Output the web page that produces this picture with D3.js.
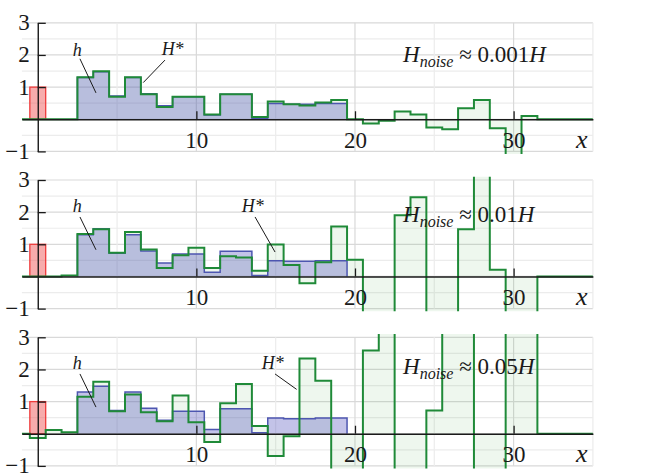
<!DOCTYPE html>
<html>
<head>
<meta charset="utf-8">
<script src="https://cdn.jsdelivr.net/npm/d3@7"></script>
<style>
  body { margin: 0; background: #fff; }
  svg { display: block; }
</style>
</head>
<body>
<div id="chart"></div>
<script>
// bin centres 0..34, each bin is 1 wide
const binCenters = d3.range(0, 35);
// exact solution h (blue), nonzero on bins 3..19
const hValues = [0, 0, 0, 1.30, 1.48, 0.72, 1.30, 0.79, 0.42, 0.70, 0.70, 0.13, 0.78, 0.78, 0.03,
  0.49, 0.47, 0.47, 0.49, 0.49, 0, 0, 0, 0, 0, 0, 0, 0, 0, 0, 0, 0, 0, 0, 0];
// reconstructions H* for the three noise levels
const hStar001 = [0, 0, 0, 1.31, 1.49, 0.70, 1.31, 0.78, 0.38, 0.70, 0.70, 0.15, 0.78, 0.78, 0.07,
  0.55, 0.47, 0.43, 0.52, 0.60, 0.0, -0.13, -0.05, 0.24, 0.15, -0.26, -0.31, 0.34, 0.60, -0.28,
  -1.6, 0.10, 0, 0, 0];
const hStar01 = [0, 0, 0.03, 1.32, 1.47, 0.74, 1.38, 0.84, 0.26, 0.66, 0.89, 0.26, 0.63, 0.59, 0.18,
  0.99, 0.36, -0.21, 0.44, 1.55, 0.52, -1.8, -1.8, 1.90, 2.46, -1.8, -1.8, 1.47, 3.6, 0.21,
  -1.8, -1.8, 0, 0, 0];
const hStar05 = [-0.13, 0.12, 0.05, 1.15, 1.62, 0.70, 1.22, 0.67, 0.39, 1.19, 0.36, -0.26, 0.95, 1.55, 0.24,
  -0.69, -0.08, 2.34, 1.65, -1.8, -1.8, 2.59, 3.6, -1.8, -1.8, 0.72, 3.6, 3.6, -1.8, -1.8,
  3.6, 3.6, 0, 0, 0];
// source pulse (red) at x = 0
const sourceBar = { x0: -0.5, x1: 0.5, value: 1 };
const noiseLabels = ['0.001', '0.01', '0.05'];
const yTicks = [-1, 1, 2, 3];
const xTicks = [10, 20, 30];

const W = 657, H = 473;
const serif = '"Liberation Serif", "Times New Roman", serif';

const panels = [
  { top: 22.8, star: hStar001, noise: noiseLabels[0], noteY: 1.79,
    hLab: [2.2, 1.97], hLine: [[2.66, 1.88], [3.67, 0.82]],
    sLab: [7.81, 2.0], sLine: [[8.02, 1.84], [6.65, 1.14]] },
  { top: 180, star: hStar01, noise: noiseLabels[1], noteY: 1.68,
    hLab: [2.2, 2.0], hLine: [[2.66, 1.85], [3.67, 0.83]],
    sLab: [12.86, 2.0], sLine: [[13.7, 1.85], [14.96, 0.76]] },
  { top: 337.3, star: hStar05, noise: noiseLabels[2], noteY: 1.86,
    hLab: [2.2, 2.02], hLine: [[2.66, 1.86], [3.67, 0.83]],
    sLab: [14.12, 2.02], sLine: [[14.96, 1.86], [16.32, 1.38]] }
];
const panelH = 128.6;

const x = d3.scaleLinear().domain([-1, 35]).range([21.9, 592.9]);

const svg = d3.select('#chart').append('svg')
  .attr('width', W).attr('height', H);

// step points: value of bin k starts at k-0.5 (curveStepAfter)
function stepPoints(vals) {
  const pts = [{ x: -1, v: 0 }];
  binCenters.forEach((c, i) => pts.push({ x: c - 0.5, v: vals[i] }));
  pts.push({ x: 35, v: vals[vals.length - 1] });
  return pts;
}
function hPoints(vals) {
  const idx = binCenters.filter((c, i) => vals[i] !== 0);
  const first = d3.min(idx), last = d3.max(idx);
  const pts = [{ x: first - 0.5, v: 0 }];
  binCenters.forEach((c, i) => {
    if (c >= first && c <= last) pts.push({ x: c - 0.5, v: vals[i] });
  });
  pts.push({ x: last + 0.5, v: 0 });
  return pts;
}

panels.forEach((p, pi) => {
  const y = d3.scaleLinear().domain([-1, 3]).range([p.top + panelH, p.top]);
  const g = svg.append('g');

  const clipId = 'clip' + pi;
  g.append('clipPath').attr('id', clipId).append('rect')
    .attr('x', x(-1)).attr('y', y(3.1))
    .attr('width', x(35) - x(-1)).attr('height', y(-1.08) - y(3.1));

  // grid
  const grid = g.append('g');
  grid.selectAll('.hg').data(d3.range(-1, 3.01, 0.5)).enter().append('line')
    .attr('x1', x(-1)).attr('x2', x(35))
    .attr('y1', d => y(d)).attr('y2', d => y(d))
    .attr('stroke', d => Number.isInteger(d) ? '#d9d9d9' : '#ececec')
    .attr('stroke-width', 1.2);
  grid.selectAll('.vg').data(d3.range(5, 35.01, 5)).enter().append('line')
    .attr('x1', d => x(d)).attr('x2', d => x(d))
    .attr('y1', y(-1)).attr('y2', y(3))
    .attr('stroke', d => d % 10 === 0 ? '#d9d9d9' : '#ececec')
    .attr('stroke-width', 1.2);

  const plot = g.append('g').attr('clip-path', `url(#${clipId})`);
  const area = d3.area().curve(d3.curveStepAfter)
    .x(d => x(d.x)).y0(y(0)).y1(d => y(d.v));
  const line = d3.line().curve(d3.curveStepAfter)
    .x(d => x(d.x)).y(d => y(d.v));

  const sPts = stepPoints(p.star);
  const hPts = hPoints(hValues);

  plot.append('path').attr('d', area(sPts))
    .attr('fill', 'rgba(70,170,70,0.09)');
  plot.append('path').attr('d', area(hPts))
    .attr('fill', 'rgba(90,90,190,0.36)');
  plot.append('path').attr('d', line(hPts))
    .attr('fill', 'none').attr('stroke', '#4d56b0').attr('stroke-width', 1.5);

  // source pulse
  plot.append('rect')
    .attr('x', x(sourceBar.x0)).attr('y', y(sourceBar.value))
    .attr('width', x(sourceBar.x1) - x(sourceBar.x0))
    .attr('height', y(0) - y(sourceBar.value))
    .attr('fill', 'rgba(240,90,90,0.5)')
    .attr('stroke', '#ef3b3b').attr('stroke-width', 1.3);

  // axes
  const fmt = d3.format('d');
  const yAxis = d3.axisLeft(y).tickValues(yTicks).tickFormat(fmt)
    .tickSize(-8).tickSizeOuter(0).tickPadding(8);
  const gy = g.append('g').attr('transform', `translate(${x(0)},0)`).call(yAxis);
  const xAxis = d3.axisBottom(x).tickValues(xTicks).tickFormat(fmt)
    .tickSize(-8).tickSizeOuter(0).tickPadding(12);
  const gx = g.append('g').attr('transform', `translate(0,${y(0)})`).call(xAxis);
  [gx, gy].forEach(a => {
    a.attr('font-family', serif).attr('font-size', 23);
    a.select('.domain').attr('stroke', '#1a1a1a').attr('stroke-width', 1.4);
    a.selectAll('.tick line').attr('stroke', '#1a1a1a').attr('stroke-width', 1.3);
    a.selectAll('.tick text').attr('fill', '#1a1a1a');
  });
  gy.selectAll('.tick text').attr('dy', '0.3em');

  plot.append('path').attr('d', line(sPts))
    .attr('fill', 'none').attr('stroke', '#1f8a38').attr('stroke-width', 2);

  // x label
  g.append('text').attr('x', 576).attr('y', y(0) + 28.5)
    .style('font-family', serif).style('font-style', 'italic').style('font-size', '26px')
    .attr('fill', '#1a1a1a').text('x');

  // annotations
  const ann = g.append('g').style('font-family', serif).style('font-style', 'italic')
    .style('font-size', '18px').attr('fill', '#1a1a1a');
  ann.append('text').attr('x', x(p.hLab[0])).attr('y', y(p.hLab[1])).text('h');
  ann.append('text').attr('x', x(p.sLab[0])).attr('y', y(p.sLab[1])).text('H*');
  [p.hLine, p.sLine].forEach(l => {
    g.append('line')
      .attr('x1', x(l[0][0])).attr('y1', y(l[0][1]))
      .attr('x2', x(l[1][0])).attr('y2', y(l[1][1]))
      .attr('stroke', '#1a1a1a').attr('stroke-width', 1);
  });

  // noise label
  const t = g.append('text').attr('x', 403).attr('y', y(p.noteY))
    .style('font-family', serif).style('font-size', '23px').attr('fill', '#1a1a1a');
  t.append('tspan').style('font-style', 'italic').text('H');
  t.append('tspan').style('font-style', 'italic').style('font-size', '16px')
    .attr('dy', 5).text('noise');
  t.append('tspan').attr('dy', -5).text(' \u2248 ' + p.noise);
  t.append('tspan').style('font-style', 'italic').text('H');
});
</script>
</body>
</html>
